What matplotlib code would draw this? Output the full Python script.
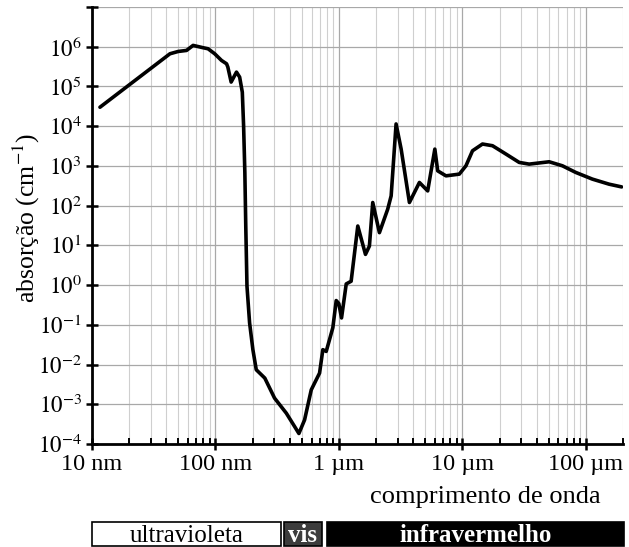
import matplotlib
matplotlib.use("Agg")
import matplotlib.pyplot as plt
from matplotlib.patches import Rectangle
from matplotlib.ticker import FixedLocator, LogLocator, NullFormatter

plt.rcParams['font.family'] = ['Liberation Serif', 'DejaVu Serif']
plt.rcParams['mathtext.fontset'] = 'stix'

# wavelength (nm) and absorption coefficient (cm^-1)
wavelength_nm = [11.6, 42.8, 49.9, 58.3, 65.9, 79.4, 87.1, 98.6, 112, 123, 126, 134,
                 148, 157, 165, 169, 173, 176, 180, 189, 201, 214, 251, 301, 375,
                 438, 474, 527, 597, 635, 697, 741, 789, 839, 893, 951, 998, 1050,
                 1146, 1256, 1422, 1641, 1766, 1879, 2128, 2483, 2649, 2904, 3192,
                 3724, 4487, 5236, 5984, 6310, 7362, 9441, 10690, 12080, 14550,
                 17540, 22540, 28840, 34750, 50470, 64570, 82800, 113000, 154200,
                 195000]
absorption = [3.0e4, 6.65e5, 7.6e5, 8.07e5, 1.08e6, 9.44e5, 8.89e5, 6.65e5, 4.51e5,
              3.72e5, 3.07e5, 1.29e5, 2.30e5, 1.72e5, 7.18e4, 1.03e4, 686, 30.7,
              0.94, 0.112, 0.0237, 7.4e-3, 4.56e-3, 1.43e-3, 5.96e-4, 2.74e-4,
              1.84e-4, 4.04e-4, 2.31e-3, 3.41e-3, 6.1e-3, 0.0237, 0.0214, 0.0423,
              0.0849, 0.408, 0.343, 0.149, 1.07, 1.25, 30.7, 5.93, 9.6, 120, 20.9,
              81.1, 176, 1.14e4, 2650, 120, 383, 235, 2650, 752, 562, 621, 1007,
              2404, 3556, 3221, 1986, 1225, 1109, 1271, 1007, 686, 465, 347, 296]

x_ticks = [10, 100, 1000, 10000, 100000]
x_tick_labels = ["10 nm", "100 nm", "1 µm", "10 µm", "100 µm"]
y_ticks = [1e-4, 1e-3, 1e-2, 1e-1, 1e0, 1e1, 1e2, 1e3, 1e4, 1e5, 1e6]
y_tick_labels = [r"$10^{-4}$", r"$10^{-3}$", r"$10^{-2}$", r"$10^{-1}$", r"$10^{0}$",
                 r"$10^{1}$", r"$10^{2}$", r"$10^{3}$", r"$10^{4}$", r"$10^{5}$", r"$10^{6}$"]

bands = ["ultravioleta", "vis", "infravermelho"]
band_start = [10, 357, 794]
band_end = [337, 723, 204000]

W, H = 629, 547
fig = plt.figure(figsize=(W / 100, H / 100), dpi=100)
ax = fig.add_axes([92 / W, 1 - 444 / H, 531 / W, 437 / H])
ax.set_xscale('log')
ax.set_yscale('log')
ax.set_xlim(10, 2e5)
ax.set_ylim(1e-4, 1e7)

ax.plot(wavelength_nm, absorption, color='black', lw=2.6, solid_joinstyle='round',
        solid_capstyle='round', zorder=3)

ax.xaxis.set_major_locator(FixedLocator(x_ticks))
ax.set_xticklabels(x_tick_labels)
ax.xaxis.set_minor_locator(LogLocator(base=10, subs=range(2, 10), numticks=20))
ax.xaxis.set_minor_formatter(NullFormatter())
ax.yaxis.set_major_locator(FixedLocator(y_ticks + [1e7]))
ax.set_yticklabels(y_tick_labels + [""])
ax.yaxis.set_minor_locator(FixedLocator([]))

ax.grid(True, which='major', axis='both', color='#a8a8a8', lw=0.9)
ax.grid(True, which='minor', axis='x', color='#cfcfcf', lw=0.8)
ax.set_axisbelow(True)

for s in ['top', 'right']:
    ax.spines[s].set_visible(False)
for s in ['left', 'bottom']:
    ax.spines[s].set_linewidth(2.0)

ax.tick_params(axis='both', which='major', direction='inout', length=9, width=1.8)
ax.tick_params(axis='x', which='major', pad=3, labelsize=17.5)
ax.tick_params(axis='y', which='major', pad=3, labelsize=16.5)
ax.tick_params(axis='x', which='minor', direction='in', length=4, width=1.4)

fig.text(26 / W, 1 - 218 / H, "absorção (cm$^{-1}$)", rotation=90, ha='center',
         va='center', fontsize=18.5)
fig.text(485 / W, 1 - 497 / H, "comprimento de onda", ha='center', va='center',
         fontsize=19)

# spectral region bar
bax = fig.add_axes([92 / W, 1 - 546 / H, 531 / W, 24 / H])
bax.set_xscale('log')
bax.set_xlim(10, 2e5)
bax.set_ylim(0, 1)
bax.axis('off')
face = ['white', '#3c3c3c', 'black']
tcol = ['black', 'white', 'white']
weight = ['normal', 'bold', 'bold']
for name, a, b, fc, tc, w in zip(bands, band_start, band_end, face, tcol, weight):
    bax.add_patch(Rectangle((a, 0.02), b - a, 0.96, facecolor=fc, edgecolor='black',
                            lw=1.2, clip_on=False))
    xm = (a * b) ** 0.5
    bax.text(xm, 0.42, name, ha='center', va='center', color=tc, fontsize=18,
             fontweight=w, clip_on=False)

fig.savefig("out.png", dpi=100)
